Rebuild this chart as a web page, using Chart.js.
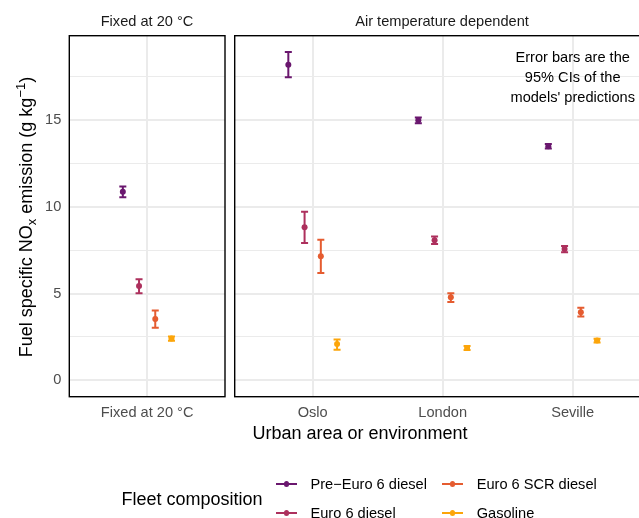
<!DOCTYPE html>
<html>
<head>
<meta charset="utf-8">
<script src="https://cdn.jsdelivr.net/npm/chart.js@4/dist/chart.umd.min.js"></script>
<style>
  html, body { margin:0; padding:0; background:#fff; }
  body { width:639px; height:518px; overflow:hidden; position:relative; font-family:'Liberation Sans', Arial, sans-serif; }
  canvas { position:absolute; top:0; }
  .t { position:absolute; white-space:nowrap; color:#000; }
  .strip { font-size:14.6px; line-height:14.6px; color:#1A1A1A; text-align:center; width:300px; }
  .leg { font-size:14.6px; line-height:14.6px; color:#000; }
  .key-line { position:absolute; height:1.8px; }
  .key-dot { position:absolute; width:5.6px; height:5.6px; border-radius:50%; }
</style>
</head>
<body>
<canvas id="c1" width="230" height="518" style="left:0"></canvas>
<canvas id="c2" width="430" height="518" style="left:230px"></canvas>

<div class="t strip" style="left:-3px;top:14.3px;">Fixed at 20 °C</div>
<div class="t strip" style="left:292px;top:14.3px;">Air temperature dependent</div>

<div class="t" id="ytitle" style="left:-174.5px;top:206.5px;width:400px;height:20px;line-height:20px;font-size:18px;text-align:center;transform:rotate(-90deg);">Fuel specific NO<span style="font-size:13px;position:relative;top:4px;">x</span> emission (g kg<span style="font-size:13px;position:relative;top:-7px;">−1</span>)</div>

<div class="t" style="left:160px;top:423.5px;width:400px;text-align:center;font-size:18px;line-height:18px;">Urban area or environment</div>

<div class="t" style="left:121.5px;top:490.1px;font-size:18px;line-height:18px;">Fleet composition</div>
<div id="legend"></div>

<script>
// ---- data ----
const fleets = ['Pre\u2212Euro 6 diesel', 'Euro 6 diesel', 'Euro 6 SCR diesel', 'Gasoline'];
const fleetColors = ['#6A176E', '#AD305D', '#E55C30', '#FCA50A'];
const fixedLabels = ['Fixed at 20 °C'];
const cities = ['Oslo', 'London', 'Seville'];
const yTickValues = [0, 5, 10, 15];

// Fixed at 20 °C (one value per fleet)
const fixedMean = [10.86, 5.44, 3.53, 2.41];
const fixedLow  = [10.54, 5.02, 3.03, 2.28];
const fixedHigh = [11.17, 5.83, 4.02, 2.53];

// Air temperature dependent (Oslo, London, Seville)
const preEuro6Mean = [18.18, 14.98, 13.49];
const preEuro6Low  = [17.45, 14.81, 13.36];
const preEuro6High = [18.91, 15.14, 13.62];
const euro6Mean = [8.82, 8.07, 7.57];
const euro6Low  = [7.91, 7.86, 7.38];
const euro6High = [9.71, 8.28, 7.74];
const scrMean = [7.15, 4.79, 3.93];
const scrLow  = [6.19, 4.51, 3.68];
const scrHigh = [8.10, 5.02, 4.18];
const gasolineMean = [2.09, 1.86, 2.30];
const gasolineLow  = [1.76, 1.75, 2.18];
const gasolineHigh = [2.36, 1.98, 2.40];

const noteLines = ['Error bars are the', '95% CIs of the', "models' predictions"];
const noteAt = { x: 3, y: 17.5 };

// ---- chart building ----
const FONT = "'Liberation Sans', Arial, sans-serif";
const Y_MIN = -0.94, Y_MAX = 19.85;
const dodge = i => (i - 1.5) * 0.125;
const CAP_HALF = 0.027;

const tempMeans = [preEuro6Mean, euro6Mean, scrMean, gasolineMean];
const tempLows = [preEuro6Low, euro6Low, scrLow, gasolineLow];
const tempHighs = [preEuro6High, euro6High, scrHigh, gasolineHigh];

const fixedDatasets = fleets.map((f, i) => ({
  label: f,
  data: [{ x: 1 + dodge(i), y: fixedMean[i] }],
  errLow: [fixedLow[i]], errHigh: [fixedHigh[i]],
  backgroundColor: fleetColors[i], borderColor: fleetColors[i],
  pointRadius: 3, pointBorderWidth: 0, showLine: false
}));
const tempDatasets = fleets.map((f, i) => ({
  label: f,
  data: cities.map((c, j) => ({ x: j + 1 + dodge(i), y: tempMeans[i][j] })),
  errLow: tempLows[i], errHigh: tempHighs[i],
  backgroundColor: fleetColors[i], borderColor: fleetColors[i],
  pointRadius: 3, pointBorderWidth: 0, showLine: false
}));

const errorBars = {
  id: 'errorBars',
  beforeDatasetsDraw(chart) {
    const ctx = chart.ctx, xs = chart.scales.x, ys = chart.scales.y;
    ctx.save();
    chart.data.datasets.forEach(ds => {
      ctx.strokeStyle = ds.borderColor;
      ctx.lineWidth = 2;
      ds.data.forEach((d, j) => {
        const x = xs.getPixelForValue(d.x);
        const hw = xs.getPixelForValue(d.x + CAP_HALF) - x;
        const y1 = ys.getPixelForValue(ds.errLow[j]);
        const y2 = ys.getPixelForValue(ds.errHigh[j]);
        ctx.beginPath();
        ctx.moveTo(x, y1); ctx.lineTo(x, y2);
        ctx.moveTo(x - hw, y1); ctx.lineTo(x + hw, y1);
        ctx.moveTo(x - hw, y2); ctx.lineTo(x + hw, y2);
        ctx.stroke();
      });
    });
    ctx.restore();
  }
};

const panelBorder = {
  id: 'panelBorder',
  afterDraw(chart) {
    const a = chart.chartArea, ctx = chart.ctx;
    ctx.save();
    ctx.strokeStyle = '#000';
    ctx.lineWidth = 1.4;
    ctx.strokeRect(a.left, a.top, a.right - a.left, a.bottom - a.top);
    ctx.restore();
  }
};

const note = {
  id: 'note',
  afterDatasetsDraw(chart) {
    const ctx = chart.ctx, xs = chart.scales.x, ys = chart.scales.y;
    const cx = xs.getPixelForValue(noteAt.x);
    const cy = ys.getPixelForValue(noteAt.y);
    ctx.save();
    ctx.font = '14.6px ' + FONT;
    ctx.fillStyle = '#000';
    ctx.textAlign = 'center';
    ctx.textBaseline = 'alphabetic';
    noteLines.forEach((l, i) => ctx.fillText(l, cx, cy + 5.5 + (i - 1) * 20));
    ctx.restore();
  }
};

function yScale(showLabels, axisWidth) {
  return {
    type: 'linear', min: Y_MIN, max: Y_MAX,
    afterBuildTicks: s => {
      const t = [];
      for (let v = 0; v <= 17.5; v += 2.5) t.push({ value: v });
      s.ticks = t;
    },
    afterFit: s => { s.width = axisWidth; },
    border: { display: false },
    grid: {
      drawTicks: false,
      color: '#EBEBEB',
      lineWidth: c => (c.tick && yTickValues.includes(c.tick.value)) ? 2 : 1
    },
    ticks: {
      display: showLabels,
      padding: 8,
      color: '#4D4D4D',
      font: { family: FONT, size: 14.6 },
      callback: v => yTickValues.includes(v) ? String(v) : ''
    }
  };
}

function xScale(labels) {
  return {
    type: 'linear', min: 0.4, max: labels.length + 0.6,
    afterBuildTicks: s => { s.ticks = labels.map((l, i) => ({ value: i + 1 })); },
    afterFit: s => { s.height = 40; },
    border: { display: false },
    grid: { drawTicks: false, color: '#EBEBEB', lineWidth: 2 },
    ticks: {
      autoSkip: false, maxRotation: 0, padding: 8,
      color: '#4D4D4D',
      font: { family: FONT, size: 14.6 },
      callback: v => labels[Math.round(v) - 1] || ''
    }
  };
}

function baseOptions(padding, xs, ys) {
  return {
    type: 'scatter',
    options: {
      responsive: false, animation: false, devicePixelRatio: 1, events: [],
      layout: { padding },
      plugins: { legend: { display: false }, tooltip: { enabled: false } },
      scales: { x: xs, y: ys }
    }
  };
}

const cfg1 = baseOptions({ left: 0, right: 5, top: 35.7, bottom: 81.3 }, xScale(fixedLabels), yScale(true, 69.3));
cfg1.data = { datasets: fixedDatasets };
cfg1.plugins = [errorBars, panelBorder];
new Chart(document.getElementById('c1'), cfg1);

const cfg2 = baseOptions({ left: 4.7, right: 9.3, top: 35.7, bottom: 81.3 }, xScale(cities), yScale(false, 0));
cfg2.data = { datasets: tempDatasets };
cfg2.plugins = [errorBars, panelBorder, note];
new Chart(document.getElementById('c2'), cfg2);

// ---- HTML legend ----
const legendPos = [
  { key: 275.6, label: 310.5, cy: 484 },
  { key: 275.6, label: 310.5, cy: 513 },
  { key: 441.7, label: 476.7, cy: 484 },
  { key: 441.7, label: 476.7, cy: 513 }
];
const leg = document.getElementById('legend');
fleets.forEach((f, i) => {
  const p = legendPos[i];
  const line = document.createElement('div');
  line.className = 'key-line';
  line.style.cssText = `left:${p.key}px;top:${p.cy - 0.9}px;width:21.7px;background:${fleetColors[i]}`;
  const dot = document.createElement('div');
  dot.className = 'key-dot';
  dot.style.cssText = `left:${p.key + 10.85 - 2.8}px;top:${p.cy - 2.8}px;background:${fleetColors[i]}`;
  const txt = document.createElement('div');
  txt.className = 't leg';
  txt.style.cssText = `left:${p.label}px;top:${p.cy + 5.2 - 12.36}px`;
  txt.textContent = f;
  leg.appendChild(line); leg.appendChild(dot); leg.appendChild(txt);
});
</script>
</body>
</html>
